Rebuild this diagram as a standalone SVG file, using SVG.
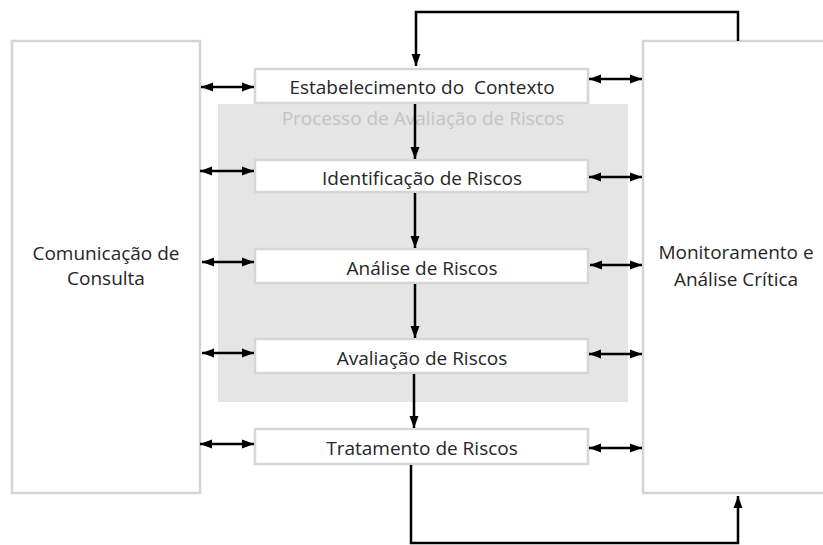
<svg xmlns="http://www.w3.org/2000/svg" width="823" height="545" viewBox="0 0 823 545">
<defs>
<marker id="ah" viewBox="0 0 12 10" refX="12" refY="5" markerWidth="12" markerHeight="10" markerUnits="userSpaceOnUse" orient="auto-start-reverse">
<path d="M0,0.5 L12,5 L0,9.5 Z" fill="#000"/>
</marker>
<style>
.side{fill:#fff;stroke:#d4d4d4;stroke-width:2.5}
.box{fill:#fff;stroke:#d6d6d6;stroke-width:2.5}
.t{font-family:"Open Sans","Liberation Sans",sans-serif;font-size:19px;fill:#262626;text-anchor:middle}
.c{stroke:#000;stroke-width:2.5;fill:none}
.a{marker-end:url(#ah)}
.d{marker-start:url(#ah);marker-end:url(#ah)}
</style>
</defs>
<rect width="823" height="545" fill="#fff"/>
<rect x="218" y="104" width="410" height="298" fill="#e5e5e5"/>
<text x="423" y="125" class="t" style="fill:#c4c4c4">Processo de Avaliação de Riscos</text>
<g id="comunicacao">
<rect class="side" x="12" y="41" width="188" height="452"/>
<text class="t" x="106" y="260">Comunicação de</text>
<text class="t" x="106" y="285">Consulta</text>
</g>
<g id="monitoramento">
<rect class="side" x="643" y="41" width="185" height="452"/>
<text class="t" x="736" y="259">Monitoramento e</text>
<text class="t" x="736" y="286">Análise Crítica</text>
</g>
<g id="estabelecimento">
<rect class="box" x="255" y="69" width="333" height="34"/>
<text class="t" x="422" y="94" xml:space="preserve">Estabelecimento do  Contexto</text>
</g>
<g id="identificacao">
<rect class="box" x="255" y="160" width="333" height="32"/>
<text class="t" x="422" y="185">Identificação de Riscos</text>
</g>
<g id="analise">
<rect class="box" x="255" y="249" width="333" height="34"/>
<text class="t" x="422" y="275">Análise de Riscos</text>
</g>
<g id="avaliacao">
<rect class="box" x="255" y="339" width="333" height="34"/>
<text class="t" x="422" y="365">Avaliação de Riscos</text>
</g>
<g id="tratamento">
<rect class="box" x="255" y="429" width="333" height="35"/>
<text class="t" x="422" y="455">Tratamento de Riscos</text>
</g>
<g id="connectors">
<path class="c a" d="M738,41 V12 H416 V66"/>
<path class="c a" d="M415,104 V159"/>
<path class="c a" d="M415,193 V248"/>
<path class="c a" d="M415,284 V338"/>
<path class="c a" d="M414,374 V428"/>
<path class="c a" d="M411,465 V543 H738 V496"/>
<path class="c d" d="M201,87 H254"/>
<path class="c d" d="M200,171 H254"/>
<path class="c d" d="M202,262 H254"/>
<path class="c d" d="M202,353 H254"/>
<path class="c d" d="M200,444 H254"/>
<path class="c d" d="M589,79 H642"/>
<path class="c d" d="M589,177 H642"/>
<path class="c d" d="M590,265 H642"/>
<path class="c d" d="M589,354 H642"/>
<path class="c d" d="M589,448 H642"/>
</g>
</svg>
